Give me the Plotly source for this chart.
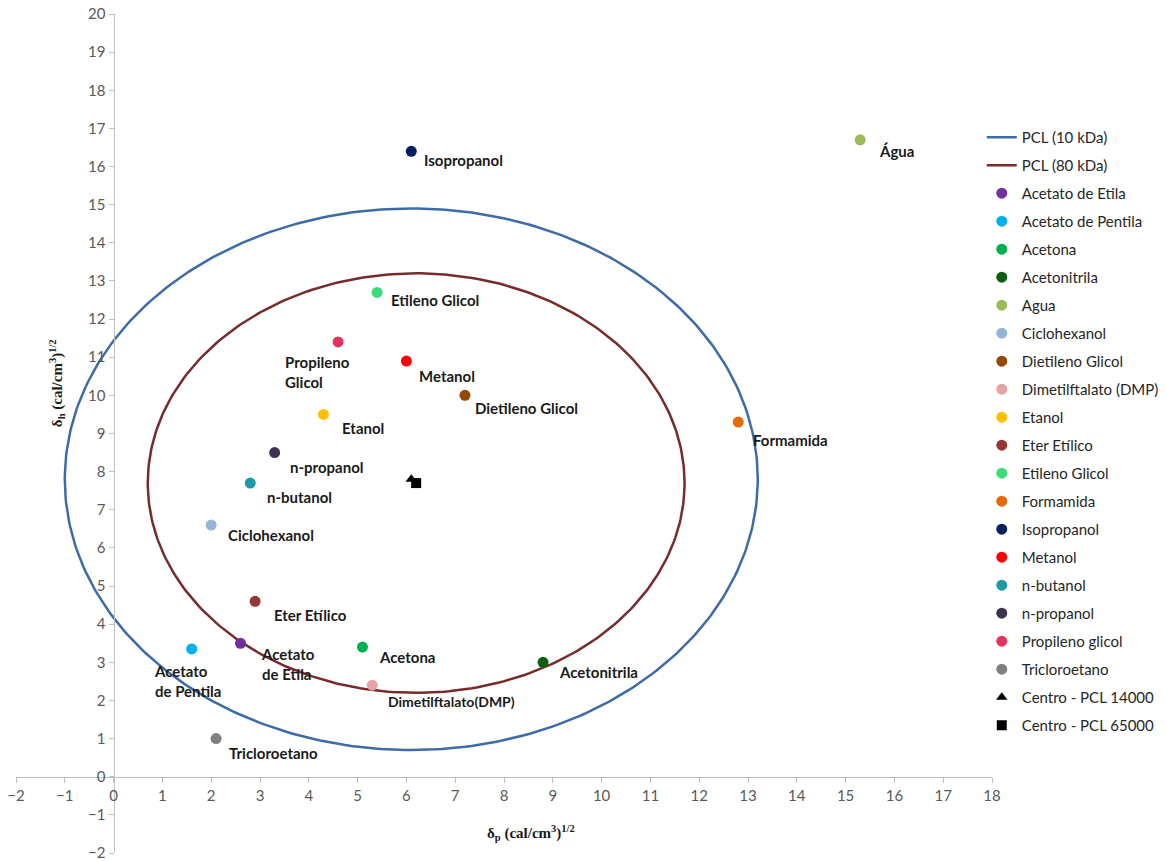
import numpy as np
import plotly.graph_objects as go

# Hansen parameters of the solvents (delta_p, delta_h)
solvents = ["Acetato de Etila", "Acetato de Pentila", "Acetona", "Acetonitrila", "Agua",
            "Ciclohexanol", "Dietileno Glicol", "Dimetilftalato (DMP)", "Etanol", "Eter Etílico",
            "Etileno Glicol", "Formamida", "Isopropanol", "Metanol", "n-butanol", "n-propanol",
            "Propileno glicol", "Tricloroetano"]
delta_p = [2.6, 1.6, 5.1, 8.8, 15.3, 2.0, 7.2, 5.3, 4.3, 2.9, 5.4, 12.8, 6.1, 6.0, 2.8, 3.3, 4.6, 2.1]
delta_h = [3.5, 3.35, 3.4, 3.0, 16.7, 6.6, 10.0, 2.4, 9.5, 4.6, 12.7, 9.3, 16.4, 10.9, 7.7, 8.5, 11.4, 1.0]
point_labels = ["Acetato<br>de Etila", "Acetato<br>de Pentila", "Acetona", "Acetonitrila", "Água",
                "Ciclohexanol", "Dietileno Glicol", "Dimetilftalato(DMP)", "Etanol", "Eter Etílico",
                "Etileno Glicol", "Formamida", "Isopropanol", "Metanol", "n-butanol", "n-propanol",
                "Propileno<br>Glicol", "Tricloroetano"]
label_sizes = [15, 15, 15, 15, 15, 15, 15, 14, 15, 15, 15, 15, 15, 15, 15, 15, 15, 15]
colors = ["#7030A0", "#00B0F0", "#00B050", "#0B5E12", "#9BBB59", "#95B3D7", "#974706", "#E6A3A3",
          "#FFC000", "#953735", "#3DDC7A", "#E36C09", "#002060", "#FF0000", "#1E9AA6", "#3F3151",
          "#E8325E", "#808080"]
# label offsets in px: (left edge dx, vertical dy downwards)
label_dx = [19, -40, 15, 14, 17, 15, 8, 14, 17, 17, 12, 13, 11, 11, 15, 13, -55, 11]
label_dy = [21, 32, 10, 10, 11, 10, 13, 16, 14, 14, 8, 18, 9, 15, 14, 14, 30, 14]

# solubility spheres of PCL
sphere_names = ["PCL (10 kDa)", "PCL (80 kDa)"]
sphere_cp = [6.1, 6.2]
sphere_ch = [7.8, 7.7]
sphere_r = [7.1, 5.5]
sphere_colors = ["#3D6BA8", "#772B2B"]

center_names = ["Centro - PCL 14000", "Centro - PCL 65000"]
center_p = [6.1, 6.2]
center_h = [7.8, 7.7]
center_symbols = ["triangle-up", "square"]

x_ticks = list(range(-2, 19))
y_ticks = list(range(-2, 21))

fig = go.Figure()

t = np.linspace(0, 2 * np.pi, 361)
for name, cp, ch, r, c in zip(sphere_names, sphere_cp, sphere_ch, sphere_r, sphere_colors):
    fig.add_trace(go.Scatter(x=cp + r * np.cos(t), y=ch + r * np.sin(t), mode="lines",
                             name=name, legendgroup=name,
                             line=dict(color=c, width=2.5), hoverinfo="skip"))

for name, xp, yh, c in zip(solvents, delta_p, delta_h, colors):
    fig.add_trace(go.Scatter(x=[xp], y=[yh], mode="markers", name=name, legendgroup=name,
                             marker=dict(color=c, size=11, symbol="circle")))

for name, xp, yh, s in zip(center_names, center_p, center_h, center_symbols):
    fig.add_trace(go.Scatter(x=[xp], y=[yh], mode="markers", name=name, legendgroup=name,
                             marker=dict(color="black", size=10, symbol=s)))

for lab, xp, yh, dx, dy, fs in zip(point_labels, delta_p, delta_h, label_dx, label_dy, label_sizes):
    fig.add_annotation(x=xp, y=yh, text="<b>" + lab + "</b>", showarrow=False,
                       xanchor="left", yanchor="middle", align="left",
                       xshift=dx, yshift=-dy,
                       font=dict(family="Lato", size=fs, color="#1A1A1A"))

title_font = dict(family="Liberation Serif", size=15, color="#1A1A1A")
fig.add_annotation(xref="paper", yref="paper", x=0.528, y=0.024,
                   text="<b>δ<sub>p</sub> (cal/cm<sup>3</sup>)<sup>1/2</sup></b>",
                   showarrow=False, xanchor="center", yanchor="middle", font=title_font)
fig.add_annotation(xref="paper", yref="paper", x=0.042, y=0.56,
                   text="<b>δ<sub>h</sub> (cal/cm<sup>3</sup>)<sup>1/2</sup></b>",
                   showarrow=False, xanchor="center", yanchor="middle", textangle=-90,
                   font=title_font)

axis_common = dict(showgrid=False, zeroline=False, showline=True, linecolor="#BFBFBF",
                   linewidth=1.2, ticks="outside", ticklen=5, tickcolor="#BFBFBF",
                   tickfont=dict(family="Lato", size=15, color="#595959"),
                   anchor="free", automargin=False, ticklabeloverflow="allow")

fig.update_layout(
    width=1166, height=861,
    margin=dict(l=16, r=174, t=14, b=8, autoexpand=False),
    plot_bgcolor="white", paper_bgcolor="white",
    xaxis=dict(range=[-2.0001, 18.0001], tickvals=x_ticks, position=2 / 22, **axis_common),
    yaxis=dict(range=[-2.0001, 20.0001], tickvals=y_ticks, position=2 / 20, **axis_common),
    showlegend=True,
    legend=dict(xref="container", yref="container", x=0.842, y=0.8595, xanchor="left",
                yanchor="top", font=dict(family="Lato", size=15, color="#262626"),
                tracegroupgap=5.5, maxheight=760, bgcolor="rgba(0,0,0,0)"),
)

fig.write_html("out.html")
